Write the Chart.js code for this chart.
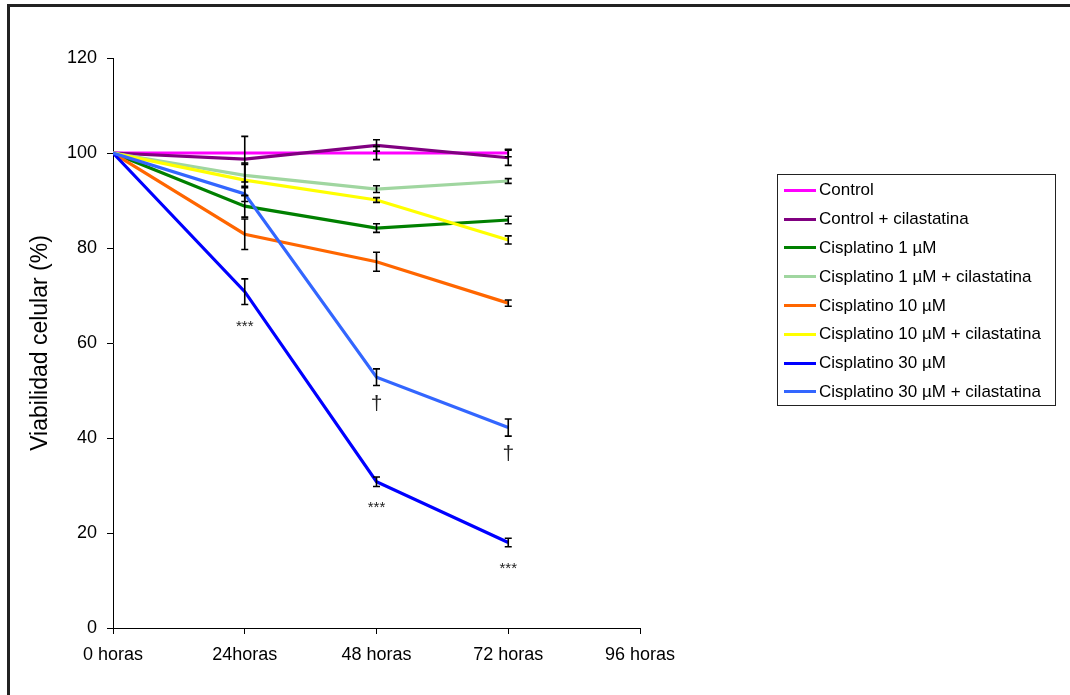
<!DOCTYPE html>
<html>
<head>
<meta charset="utf-8">
<script src="https://cdn.jsdelivr.net/npm/chart.js@4/dist/chart.umd.min.js"></script>
<style>
  html, body { margin: 0; padding: 0; background: #fff; }
  body { width: 1070px; height: 695px; position: relative; overflow: hidden; font-family: "Liberation Sans", Arial, sans-serif; }
  #frame { position: absolute; left: 7px; top: 4px; width: 1200px; height: 800px; border-left: 3px solid #222; border-top: 3px solid #222; box-sizing: border-box; pointer-events: none; }
  #wrap { position: absolute; left: 0; top: 0; width: 1070px; height: 695px; }
  #legend { position: absolute; left: 777px; top: 174px; width: 279px; height: 232px; border: 1px solid #222; box-sizing: border-box; padding-top: 1px; }
  .row { height: 28.8px; display: flex; align-items: center; font-size: 17px; color: #000; white-space: nowrap; }
  .sw { width: 32px; height: 3px; margin-left: 6px; margin-right: 3px; }
</style>
</head>
<body>
<div id="wrap"><canvas id="c" width="1070" height="695"></canvas></div>
<div id="frame"></div>
<div id="legend"></div>
<script>
// ---- data ----
const hours = [0, 24, 48, 72];
const xLabels = ['0 horas', '24horas', '48 horas', '72 horas', '96 horas'];
const seriesNames = [
  'Control',
  'Control + cilastatina',
  'Cisplatino 1 µM',
  'Cisplatino 1 µM + cilastatina',
  'Cisplatino 10 µM',
  'Cisplatino 10 µM + cilastatina',
  'Cisplatino 30 µM',
  'Cisplatino 30 µM + cilastatina'
];
const control        = [100, 100.0, 100.0, 100.0];
const controlCil     = [100, 98.7, 101.6, 99.0];
const cis1           = [100, 88.8, 84.2, 85.9];
const cis1Cil        = [100, 95.3, 92.4, 94.1];
const cis10          = [100, 82.9, 77.1, 68.4];
const cis10Cil       = [100, 94.3, 90.1, 81.7];
const cis30          = [100, 70.8, 30.8, 18.0];
const cis30Cil       = [100, 91.4, 52.8, 42.2];

const controlErr     = [0, 0, 1.4, 0.8];
const controlCilErr  = [0, 4.8, 1.2, 1.6];
const cis1Err        = [0, 2.3, 0.9, 0.8];
const cis1CilErr     = [0, 2.6, 0.7, 0.5];
const cis10Err       = [0, 3.2, 2.0, 0.65];
const cis10CilErr    = [0, 3.3, 0.5, 0.85];
const cis30Err       = [0, 2.7, 1.0, 0.9];
const cis30CilErr    = [0, 1.6, 1.75, 1.8];

const cis30Marks     = ['', '***', '***', '***'];
const cis30CilMarks  = ['', '', '†', '†'];

const colors = ['#FF00FF', '#800080', '#008000', '#A0D6A0', '#FF6600', '#FFFF00', '#0000FF', '#3366FF'];
const values = [control, controlCil, cis1, cis1Cil, cis10, cis10Cil, cis30, cis30Cil];
const errors = [controlErr, controlCilErr, cis1Err, cis1CilErr, cis10Err, cis10CilErr, cis30Err, cis30CilErr];
const marks  = [null, null, null, null, null, null, cis30Marks, cis30CilMarks];

const FONT = '"Liberation Sans", Arial, sans-serif';

const datasets = seriesNames.map((name, i) => ({
  label: name,
  data: hours.map((h, j) => ({ x: h, y: values[i][j] })),
  borderColor: colors[i],
  backgroundColor: colors[i],
  borderWidth: 3.2,
  pointRadius: 0,
  tension: 0,
  fill: false,
  order: seriesNames.length - i,
  errs: errors[i],
  marks: marks[i]
}));

const errorBarPlugin = {
  id: 'errorBars',
  afterDatasetsDraw(chart) {
    const ctx = chart.ctx;
    const xs = chart.scales.x, ys = chart.scales.y;
    ctx.save();
    ctx.strokeStyle = '#000';
    ctx.lineWidth = 1.6;
    chart.data.datasets.forEach(ds => {
      ds.data.forEach((p, j) => {
        const e = ds.errs[j];
        if (!e) return;
        const x = xs.getPixelForValue(p.x);
        const yt = ys.getPixelForValue(p.y + e);
        const yb = ys.getPixelForValue(p.y - e);
        ctx.beginPath();
        ctx.moveTo(x, yt); ctx.lineTo(x, yb);
        ctx.moveTo(x - 3.5, yt); ctx.lineTo(x + 3.5, yt);
        ctx.moveTo(x - 3.5, yb); ctx.lineTo(x + 3.5, yb);
        ctx.stroke();
      });
    });
    // significance marks
    ctx.fillStyle = '#222';
    ctx.textAlign = 'center';
    ctx.textBaseline = 'alphabetic';
    chart.data.datasets.forEach(ds => {
      if (!ds.marks) return;
      ds.data.forEach((p, j) => {
        const m = ds.marks[j];
        if (!m) return;
        const x = xs.getPixelForValue(p.x);
        const yb = ys.getPixelForValue(p.y - ds.errs[j]);
        if (m === '†') {
          ctx.font = '21px ' + FONT;
          ctx.fillText(m, x, yb + 24);
        } else {
          ctx.font = '15px ' + FONT;
          ctx.fillText(m, x, yb + 26);
        }
      });
    });
    ctx.restore();
  }
};

const chart = new Chart(document.getElementById('c'), {
  type: 'line',
  data: { datasets },
  options: {
    responsive: false,
    animation: false,
    devicePixelRatio: 1,
    layout: { padding: { top: 58, right: 430, left: 0, bottom: 0 } },
    plugins: { legend: { display: false }, tooltip: { enabled: false } },
    scales: {
      x: {
        type: 'linear',
        min: 0, max: 96,
        afterFit(s) { s.height = 67; s.paddingLeft = 0; s.paddingRight = 0; },
        ticks: {
          stepSize: 24,
          autoSkip: false,
          maxRotation: 0,
          padding: 10,
          color: '#000',
          font: { family: FONT, size: 18 },
          callback: v => xLabels[Math.round(v / 24)]
        },
        grid: { drawOnChartArea: false, drawTicks: true, tickLength: 6, color: '#000' },
        border: { color: '#000', width: 1 }
      },
      y: {
        min: 0, max: 120,
        afterFit(s) { s.width = 113; s.paddingTop = 0; s.paddingBottom = 0; },
        ticks: {
          stepSize: 20,
          padding: 10,
          color: '#000',
          font: { family: FONT, size: 18 }
        },
        grid: { drawOnChartArea: false, drawTicks: true, tickLength: 6, color: '#000' },
        border: { color: '#000', width: 1 },
        title: {
          display: true,
          text: 'Viabilidad celular (%)',
          color: '#000',
          font: { family: FONT, size: 23 },
          padding: { top: 27, bottom: 0 }
        }
      }
    }
  },
  plugins: [errorBarPlugin]
});

// legend built from the chart's datasets
const leg = document.getElementById('legend');
chart.data.datasets.forEach(ds => {
  const row = document.createElement('div');
  row.className = 'row';
  const sw = document.createElement('div');
  sw.className = 'sw';
  sw.style.background = ds.borderColor;
  const t = document.createElement('span');
  t.textContent = ds.label;
  row.appendChild(sw); row.appendChild(t);
  leg.appendChild(row);
});
</script>
</body>
</html>
